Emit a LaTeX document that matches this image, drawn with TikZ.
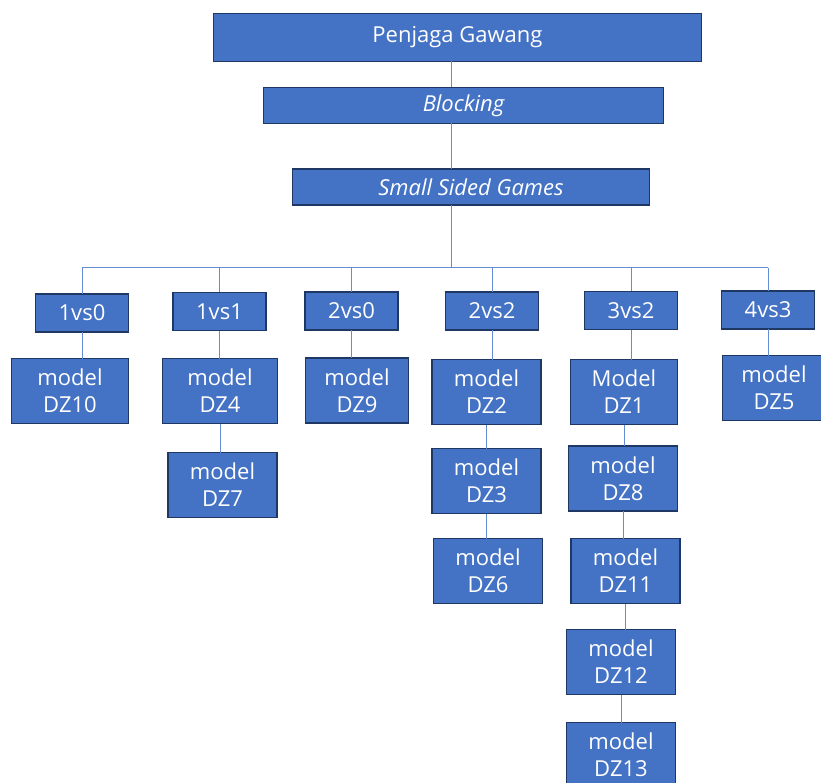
\documentclass[tikz,border=0pt]{standalone}
\usepackage{fontspec}
\setmainfont{Open Sans}
\usetikzlibrary{positioning}
\definecolor{boxfill}{HTML}{4472C4}
\definecolor{boxline}{HTML}{1F3763}
\definecolor{linkcol}{RGB}{100,140,210}
\tikzstyle{box} = [rectangle, inner sep=0pt, outer sep=0pt, align=center, draw=boxline, line width=1.8pt, fill=boxfill, text=white, font=\fontsize{22}{27}\selectfont]
\tikzstyle{topbox} = [box, minimum height=36pt]
\tikzstyle{gamebox} = [box, minimum width=93pt, minimum height=38pt]
\tikzstyle{modelbox} = [box, minimum width=109pt, minimum height=65pt]
\tikzstyle{link} = [draw=linkcol, line width=1pt]

\begin{document}
\begin{tikzpicture}[x=1pt, y=-1pt]
\path[use as bounding box, fill=white] (0,0) rectangle (821,783);

\node (pg) [topbox, minimum width=488pt, minimum height=48pt] at (457.5,37.5) {Penjaga Gawang};
\node (blk) [topbox, minimum width=400pt] at (463.5,105.5) {\itshape Blocking};
\node (ssg) [topbox, minimum width=357pt] at (471,187) {\itshape Small Sided Games};
\coordinate (trunk) at (451,268);

\node (g10) [gamebox] at (82,313) {1vs0};
\node (g11) [gamebox] at (219.5,311.5) {1vs1};
\node (g20) [gamebox] at (351.5,311) {2vs0};
\node (g22) [gamebox] at (492,311) {2vs2};
\node (g32) [gamebox] at (631,310.5) {3vs2};
\node (g43) [gamebox] at (768,310) {4vs3};

\node (dz10) [modelbox, minimum width=117pt] at (70,391) {model\\DZ10};
\node (dz4) [modelbox, minimum width=115pt] at (220,391) {model\\DZ4};
\node (dz7) [modelbox] at (222.5,485) {model\\DZ7};
\node (dz9) [modelbox, minimum width=103pt] at (357,390.5) {model\\DZ9};
\node (dz2) [modelbox] at (486.5,392) {model\\DZ2};
\node (dz3) [modelbox] at (486.5,481) {model\\DZ3};
\node (dz6) [modelbox] at (488,571) {model\\DZ6};
\node (dz1) [modelbox, minimum width=107pt] at (624,392) {Model\\DZ1};
\node (dz8) [modelbox] at (623,478.5) {model\\DZ8};
\node (dz11) [modelbox] at (625.5,571) {model\\DZ11};
\node (dz12) [modelbox] at (621,662) {model\\DZ12};
\node (dz13) [modelbox] at (621,755) {model\\DZ13};
\node (dz5) [modelbox, minimum width=103pt] at (774,388) {model\\DZ5};

\draw [link] (pg.south -| trunk) -- (blk.north -| trunk);
\draw [link] (blk.south -| trunk) -- (ssg.north -| trunk);
\draw [link] (ssg.south -| trunk) -- (trunk);
\draw [link] (g10.north |- trunk) -- (g43.north |- trunk);
\draw [link] (g10.north |- trunk) -- (g10.north);
\draw [link] (g11.north |- trunk) -- (g11.north);
\draw [link] (g20.north |- trunk) -- (g20.north);
\draw [link] (g22.north |- trunk) -- (g22.north);
\draw [link] (g32.north |- trunk) -- (g32.north);
\draw [link] (g43.north |- trunk) -- (g43.north);
\draw [link] (g10.south) -- (g10.south |- dz10.north);
\draw [link] (g11.south) -- (g11.south |- dz4.north);
\draw [link] (dz4.south) -- (dz4.south |- dz7.north);
\draw [link] (g20.south) -- (g20.south |- dz9.north);
\draw [link] (g22.south) -- (g22.south |- dz2.north);
\draw [link] (dz2.south) -- (dz2.south |- dz3.north);
\draw [link] (dz3.south) -- (dz3.south |- dz6.north);
\draw [link] (g32.south) -- (g32.south |- dz1.north);
\draw [link] (dz1.south) -- (dz1.south |- dz8.north);
\draw [link] (dz8.south) -- (dz8.south |- dz11.north);
\draw [link] (dz11.south) -- (dz11.south |- dz12.north);
\draw [link] (dz12.south) -- (dz12.south |- dz13.north);
\draw [link] (g43.south) -- (g43.south |- dz5.north);
\end{tikzpicture}
\end{document}
